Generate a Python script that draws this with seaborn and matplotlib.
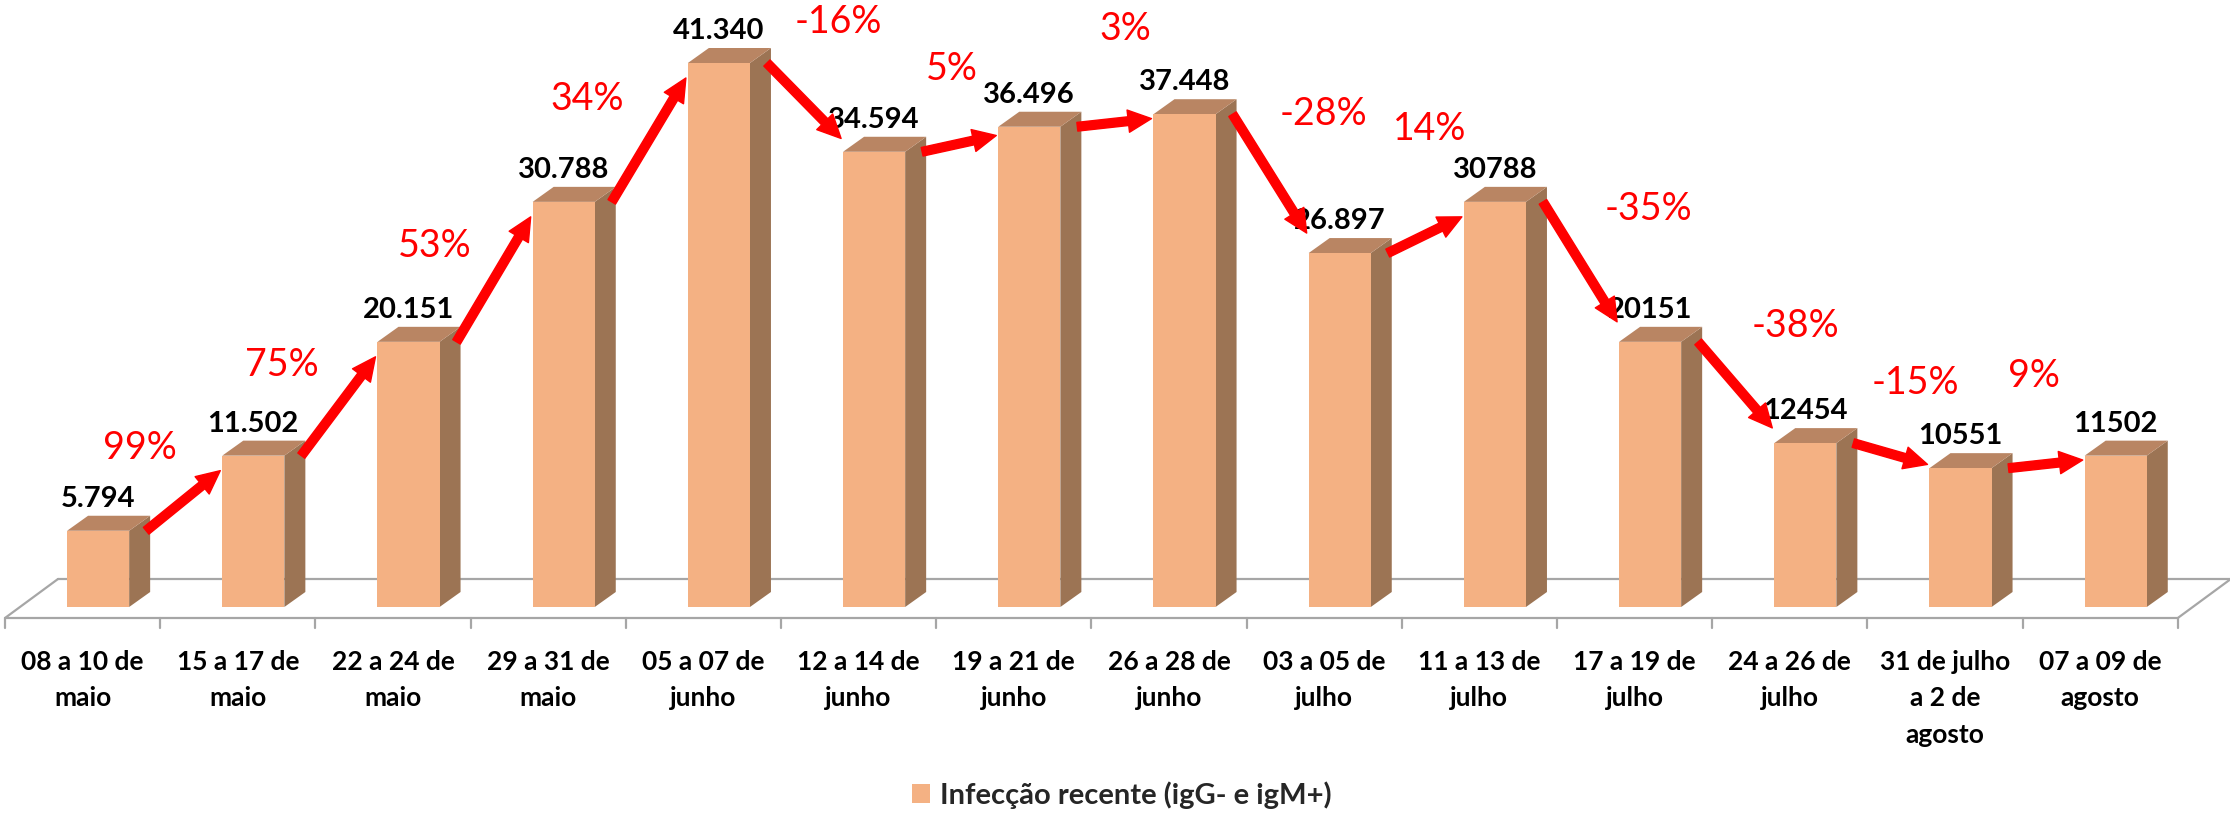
import numpy as np
import pandas as pd
import matplotlib
matplotlib.use("Agg")
import matplotlib.pyplot as plt
from matplotlib.patches import Polygon, Patch
import seaborn as sns

# dados do gráfico
semanas = [
    "08 a 10 de\nmaio", "15 a 17 de\nmaio", "22 a 24 de\nmaio", "29 a 31 de\nmaio",
    "05 a 07 de\njunho", "12 a 14 de\njunho", "19 a 21 de\njunho", "26 a 28 de\njunho",
    "03 a 05 de\njulho", "11 a 13 de\njulho", "17 a 19 de\njulho", "24 a 26 de\njulho",
    "31 de julho\na 2 de\nagosto", "07 a 09 de\nagosto",
]
casos = [5794, 11502, 20151, 30788, 41340, 34594, 36496, 37448,
         26897, 30788, 20151, 12454, 10551, 11502]
rotulos = ["5.794", "11.502", "20.151", "30.788", "41.340", "34.594", "36.496",
           "37.448", "26.897", "30788", "20151", "12454", "10551", "11502"]
legenda = "Infecção recente (igG- e igM+)"

# cores
FRENTE = "#F4B183"
TOPO = "#B98563"
LADO = "#9C7454"
VERMELHO = "#FF0000"
CINZA = "#A6A6A6"

# layout em pixels
W, H = 2230, 814
X0, CW, BASE = 5, 155.2, 607
PY = 544 / 41340
BAR_W = 0.4
SHIFT = 0.1
DX, DY = 21 / CW, 15 / PY   # profundidade das barras

# ajuste manual (px) da posição dos textos de variação
ajuste_pct = [(7, -9), (7, -7), (10, -7), (7, 0), (-23, 23), (10, -4), (20, 14),
              (-14, 17), (40, 34), (0, 11), (0, 7), (3, -6), (-3, 9)]

sns.set_theme(style="white")
plt.rcParams["font.family"] = ["Lato", "DejaVu Sans"]

fig = plt.figure(figsize=(W / 100, H / 100), dpi=100)
ax = fig.add_axes([0, 0, 1, 1])

df = pd.DataFrame({"semana": semanas, "casos": casos})
sns.barplot(data=df, x="semana", y="casos", color=FRENTE, saturation=1,
            width=BAR_W, errorbar=None, ax=ax, zorder=3)
bars = list(ax.patches)
for p in bars:
    p.set_x(p.get_x() + SHIFT)
    p.set_linewidth(0)

n = len(casos)
ax.set_xlim(-0.5 - X0 / CW, -0.5 + (W - X0) / CW)
ax.set_ylim(-(H - BASE) / PY, BASE / PY)
ax.axis("off")

# piso 3D
fy = -11 / PY
by = 28 / PY
sh = 53 / CW
fx0, fx1 = -0.5, n - 0.5
ax.plot([fx0 + sh, fx0, fx1, fx1 + sh], [by, fy, fy, by], color=CINZA, lw=1.6, zorder=1)
ax.plot([fx0 + sh, fx1 + sh], [by, by], color=CINZA, lw=1.6, zorder=1)
for k in range(n + 1):
    ax.plot([k - 0.5, k - 0.5], [fy, fy - 10 / PY], color=CINZA, lw=1.6, zorder=1)

# faces laterais e topo
for p in bars:
    xl = p.get_x()
    xr = xl + p.get_width()
    v = p.get_height()
    ax.add_patch(Polygon([(xr, 0), (xr + DX, DY), (xr + DX, v + DY), (xr, v)],
                         closed=True, facecolor=LADO, edgecolor="none", zorder=2))
    ax.add_patch(Polygon([(xl, v), (xl + DX, v + DY), (xr + DX, v + DY), (xr, v)],
                         closed=True, facecolor=TOPO, edgecolor="none", zorder=2))

# rótulos do eixo x
for i, s in enumerate(semanas):
    ax.text(i, -43 / PY, s, ha="center", va="top", fontsize=19, fontweight="bold",
            linespacing=1.62, color="black")

# valores
for i, (v, r) in enumerate(zip(casos, rotulos)):
    ax.text(i + SHIFT, v + DY + 4 / PY, r, ha="center", va="bottom",
            fontsize=21, fontweight="bold", color="black", zorder=4)

# setas e variações
for i in range(n - 1):
    a, b = casos[i], casos[i + 1]
    xs = i + SHIFT + BAR_W / 2 + 17 / CW
    ys = a
    xe = i + 1 + SHIFT - BAR_W / 2 - 2 / CW
    diff_px = (b - a) * PY
    if b > a:
        ye = b - min(0.35 * diff_px, 15) / PY
    else:
        ye = b + min(-0.15 * diff_px, 20) / PY
    ax.annotate("", xy=(xe, ye), xytext=(xs, ys),
                arrowprops=dict(arrowstyle="simple,head_length=1.2,head_width=1.15,tail_width=0.45",
                                color=VERMELHO, mutation_scale=14, shrinkA=0, shrinkB=0),
                zorder=6)
    ddx, ddy = (xe - xs) * CW, (ye - ys) * PY
    L = np.hypot(ddx, ddy)
    nx, ny = -ddy / L, ddx / L
    mx, my = (xs + xe) / 2, (ys + ye) / 2
    ax_, ay_ = ajuste_pct[i]
    pct = round((b / a - 1) * 100)
    ax.text(mx + (nx * 80 + ax_) / CW, my + (ny * 80 + ay_) / PY, f"{pct}%",
            ha="center", va="center", fontsize=27, color=VERMELHO, zorder=6)

ax.legend(handles=[Patch(facecolor=FRENTE, edgecolor="none")], labels=[legenda],
          loc="center", bbox_to_anchor=(0.503, 19 / H), frameon=False,
          prop={"size": 21, "weight": "bold"}, handlelength=0.62, handleheight=0.62,
          handletextpad=0.35)

fig.savefig("out.png", dpi=100)
